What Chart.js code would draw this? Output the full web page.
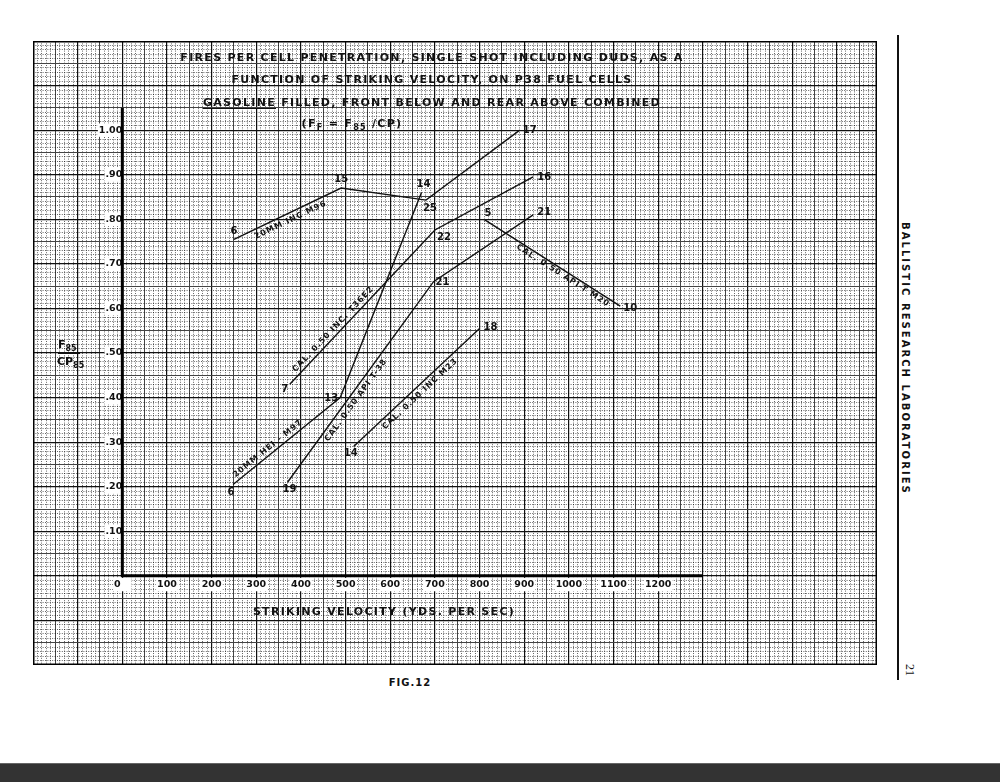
<!DOCTYPE html>
<html>
<head>
<meta charset="utf-8">
<script src="https://cdn.jsdelivr.net/npm/chart.js@4.4.0/dist/chart.umd.min.js"></script>
<style>
  body { margin: 0; width: 1000px; height: 782px; background: #fff; position: relative; overflow: hidden; font-family: "DejaVu Sans", sans-serif; color: #111; }
  #papel { position: absolute; left: 33px; top: 41px; width: 844px; height: 624px; }
  .t { position: absolute; font-weight: bold; white-space: nowrap; }
  .titulo { left: 0; width: 864px; text-align: center; font-size: 11px; letter-spacing: 1.3px; line-height: 13px; }
  .titulo u { text-decoration-thickness: 1px; text-underline-offset: 2px; }
  sub { font-size: 8px; vertical-align: -3px; }
  #raya { position: absolute; left: 897px; top: 35px; width: 2px; height: 645px; background: #111; }
  #lab { position: absolute; left: 900px; top: 222px; writing-mode: vertical-rl; font-weight: bold; font-size: 10px; letter-spacing: 2.05px; }
  #pag { position: absolute; left: 902px; top: 664px; writing-mode: vertical-rl; font-family: "Liberation Serif", serif; font-size: 12px; }
  #banda { position: absolute; left: 0; top: 763px; width: 1000px; height: 19px; background: #333; border-top: 1px solid #666; }
</style>
</head>
<body>
<div id="papel"><canvas id="grafico"></canvas></div>

<div class="t titulo" style="top:51px">FIRES PER CELL PENETRATION, <u>SINGLE SHOT</u> INCLUDING DUDS, AS A</div>
<div class="t titulo" style="top:73px">FUNCTION OF STRIKING VELOCITY, ON <u>P38</u> FUEL CELLS</div>
<div class="t titulo" style="top:96px"><u>GASOLINE</u> FILLED, FRONT BELOW AND REAR ABOVE COMBINED</div>
<div class="t titulo" style="top:117px; left:-80px">(F<sub>F</sub> = F<sub>85</sub> /CP)</div>

<div class="t" style="left:58px; top:338px; font-size:11px; border-bottom:1.5px solid #111; padding-right:3px">F<sub>85</sub></div>
<div class="t" style="left:57px; top:355px; font-size:11px">CP<sub>85</sub></div>

<div class="t" style="left:0; width:768px; text-align:center; top:605px; font-size:11px; letter-spacing:1.3px">STRIKING VELOCITY (YDS. PER SEC)</div>
<div class="t" style="left:0; width:820px; text-align:center; top:677px; font-size:10px; letter-spacing:1px">FIG.12</div>

<div id="raya"></div>
<div class="t" id="lab">BALLISTIC RESEARCH LABORATORIES</div>
<div id="pag">21</div>
<div id="banda"></div>

<script>
// Velocidad de impacto (yds/seg) y fuegos por penetracion, una lista por proyectil
const velM96 = [250, 490, 680, 890];
const fpcM96 = [0.755, 0.87, 0.843, 1.00];
const numM96 = ['6', '15', '25', '17'];

const velM97 = [248, 488, 670];
const fpcM97 = [0.205, 0.40, 0.86];
const numM97 = ['6', '13', '14'];

const velT36 = [375, 700, 920];
const fpcT36 = [0.43, 0.776, 0.895];
const numT36 = ['7', '22', '16'];

const velT38 = [370, 697, 920];
const fpcT38 = [0.21, 0.66, 0.81];
const numT38 = ['19', '21', '21'];

const velM23 = [518, 800];
const fpcM23 = [0.29, 0.555];
const numM23 = ['14', '18'];

const velM20 = [810, 1115];
const fpcM20 = [0.80, 0.605];
const numM20 = ['5', '10'];

const nombres = ['20MM INC M96', '20MM HEI - M97', 'CAL. 0.50 INC. T36E2', 'CAL. 0.50 API T-38', 'CAL. 0.50 INC M23', 'CAL. 0.50 API-T M20'];
const velocidades = [velM96, velM97, velT36, velT38, velM23, velM20];
const fuegos = [fpcM96, fpcM97, fpcT36, fpcT38, fpcM23, fpcM20];
const numeros = [numM96, numM97, numT36, numT38, numM23, numM20];

// Solo estilo: donde va cada numero respecto a su punto (px)
const despNumeros = [
  [[0, -8], [0, -9], [4, 8], [10, 0]],
  [[-2, 8], [-9, 1], [2, -8]],
  [[-5, 5], [9, 7], [11, 0]],
  [[2, 7], [9, 1], [11, -2]],
  [[-3, 7], [11, -1]],
  [[4, -6], [10, 2]]
];
// Solo estilo: tramo, fraccion del tramo y separacion del nombre rotado
const posNombres = [[0, 0.5, 7], [0, 0.36, -6], [0, 0.33, -6], [0, 0.43, 7], [0, 0.49, 7], [0, 0.6, 5]];

const rotulos = {
    id: 'rotulos',
    afterDatasetsDraw(chart) {
        const ctx = chart.ctx;
        ctx.save();
        ctx.fillStyle = '#111';
        ctx.textAlign = 'center';
        ctx.textBaseline = 'middle';
        chart.data.datasets.forEach((ds, i) => {
            const pts = chart.getDatasetMeta(i).data;
            ctx.font = 'bold 10px "DejaVu Sans"';
            ctx.letterSpacing = '0px';
            numeros[i].forEach((txt, j) => {
                const [dx, dy] = despNumeros[i][j];
                ctx.fillText(txt, pts[j].x + dx, pts[j].y + dy);
            });
            const [seg, t, off] = posNombres[i];
            const a = pts[seg], b = pts[seg + 1];
            ctx.save();
            ctx.translate(a.x + (b.x - a.x) * t, a.y + (b.y - a.y) * t);
            ctx.rotate(Math.atan2(b.y - a.y, b.x - a.x));
            ctx.font = 'bold 8px "DejaVu Sans"';
            ctx.letterSpacing = '1px';
            ctx.fillText(ds.label, 0, off);
            ctx.restore();
        });
        ctx.restore();
    }
};

// Ejes gruesos y borde del papel
const ejes = {
    id: 'ejes',
    beforeDatasetsDraw(chart) {
        const {ctx, chartArea, scales: {x, y}} = chart;
        ctx.save();
        ctx.strokeStyle = '#000';
        ctx.lineWidth = 1.5;
        ctx.strokeRect(chartArea.left + 0.75, chartArea.top + 0.75, chartArea.width - 1.5, chartArea.height - 1.5);
        ctx.lineWidth = 3;
        ctx.beginPath();
        ctx.moveTo(x.getPixelForValue(0), y.getPixelForValue(1.05));
        ctx.lineTo(x.getPixelForValue(0), y.getPixelForValue(0));
        ctx.lineTo(x.getPixelForValue(1300), y.getPixelForValue(0));
        ctx.stroke();
        ctx.restore();
    }
};

const sinPadding = (s) => { s.paddingTop = 0; s.paddingBottom = 0; s.paddingLeft = 0; s.paddingRight = 0; };
const fondoTick = (c) => (c.tick && c.tick.label) ? '#fff' : 'rgba(0,0,0,0)';

// Cuadricula tipo papel milimetrado: cada 100 / 50 / 10
const colorGrid = (k) => k % 10 === 0 ? '#111' : (k % 5 === 0 ? '#444' : 'rgba(0,0,0,0.6)');
const anchoGrid = (k) => k % 10 === 0 ? 1.2 : 1;
const dashGrid = (k) => (k % 5 === 0 ? [] : [1, 1.4]);

new Chart(document.getElementById('grafico'), {
    type: 'line',
    data: {
        datasets: nombres.map((n, i) => ({
            label: n,
            data: velocidades[i].map((v, j) => ({x: v, y: fuegos[i][j]})),
            borderColor: '#111',
            borderWidth: 1.4,
            pointRadius: 0,
            tension: 0,
            fill: false
        }))
    },
    plugins: [ejes, rotulos],
    options: {
        responsive: true,
        maintainAspectRatio: false,
        animation: false,
        layout: { padding: 0, autoPadding: false },
        plugins: {
            legend: { display: false },
            tooltip: { enabled: false }
        },
        scales: {
            x: {
                type: 'linear',
                position: { y: 0 },
                min: -200,
                max: 1690,
                afterFit: sinPadding,
                border: { display: false, dash: (c) => dashGrid(Math.round(c.tick.value / 10)) },
                grid: {
                    drawTicks: false,
                    color: (c) => colorGrid(Math.round(c.tick.value / 10)),
                    lineWidth: (c) => anchoGrid(Math.round(c.tick.value / 10))
                },
                ticks: {
                    stepSize: 10,
                    autoSkip: false,
                    maxRotation: 0,
                    padding: 3,
                    color: '#111',
                    font: { family: 'DejaVu Sans', size: 9.5, weight: 'bold' },
                    showLabelBackdrop: true,
                    backdropColor: fondoTick,
                    backdropPadding: 1,
                    callback: (v) => {
                        const k = Math.round(v);
                        if (k === 0) return '0   ';
                        return (k > 0 && k <= 1200 && k % 100 === 0) ? String(k) : '';
                    }
                }
            },
            y: {
                type: 'linear',
                position: { x: 0 },
                min: -0.2,
                max: 1.2,
                afterFit: sinPadding,
                border: { display: false, dash: (c) => dashGrid(Math.round(c.tick.value * 100)) },
                grid: {
                    drawTicks: false,
                    color: (c) => colorGrid(Math.round(c.tick.value * 100)),
                    lineWidth: (c) => anchoGrid(Math.round(c.tick.value * 100))
                },
                ticks: {
                    stepSize: 0.01,
                    autoSkip: false,
                    padding: 5,
                    color: '#111',
                    font: { family: 'DejaVu Sans', size: 9.5, weight: 'bold' },
                    showLabelBackdrop: true,
                    backdropColor: fondoTick,
                    backdropPadding: 1,
                    callback: (v) => {
                        const k = Math.round(v * 100);
                        if (k <= 0 || k > 100 || k % 10 !== 0) return '';
                        return k === 100 ? '1.00' : '.' + k;
                    }
                }
            }
        }
    }
});
</script>
</body>
</html>
